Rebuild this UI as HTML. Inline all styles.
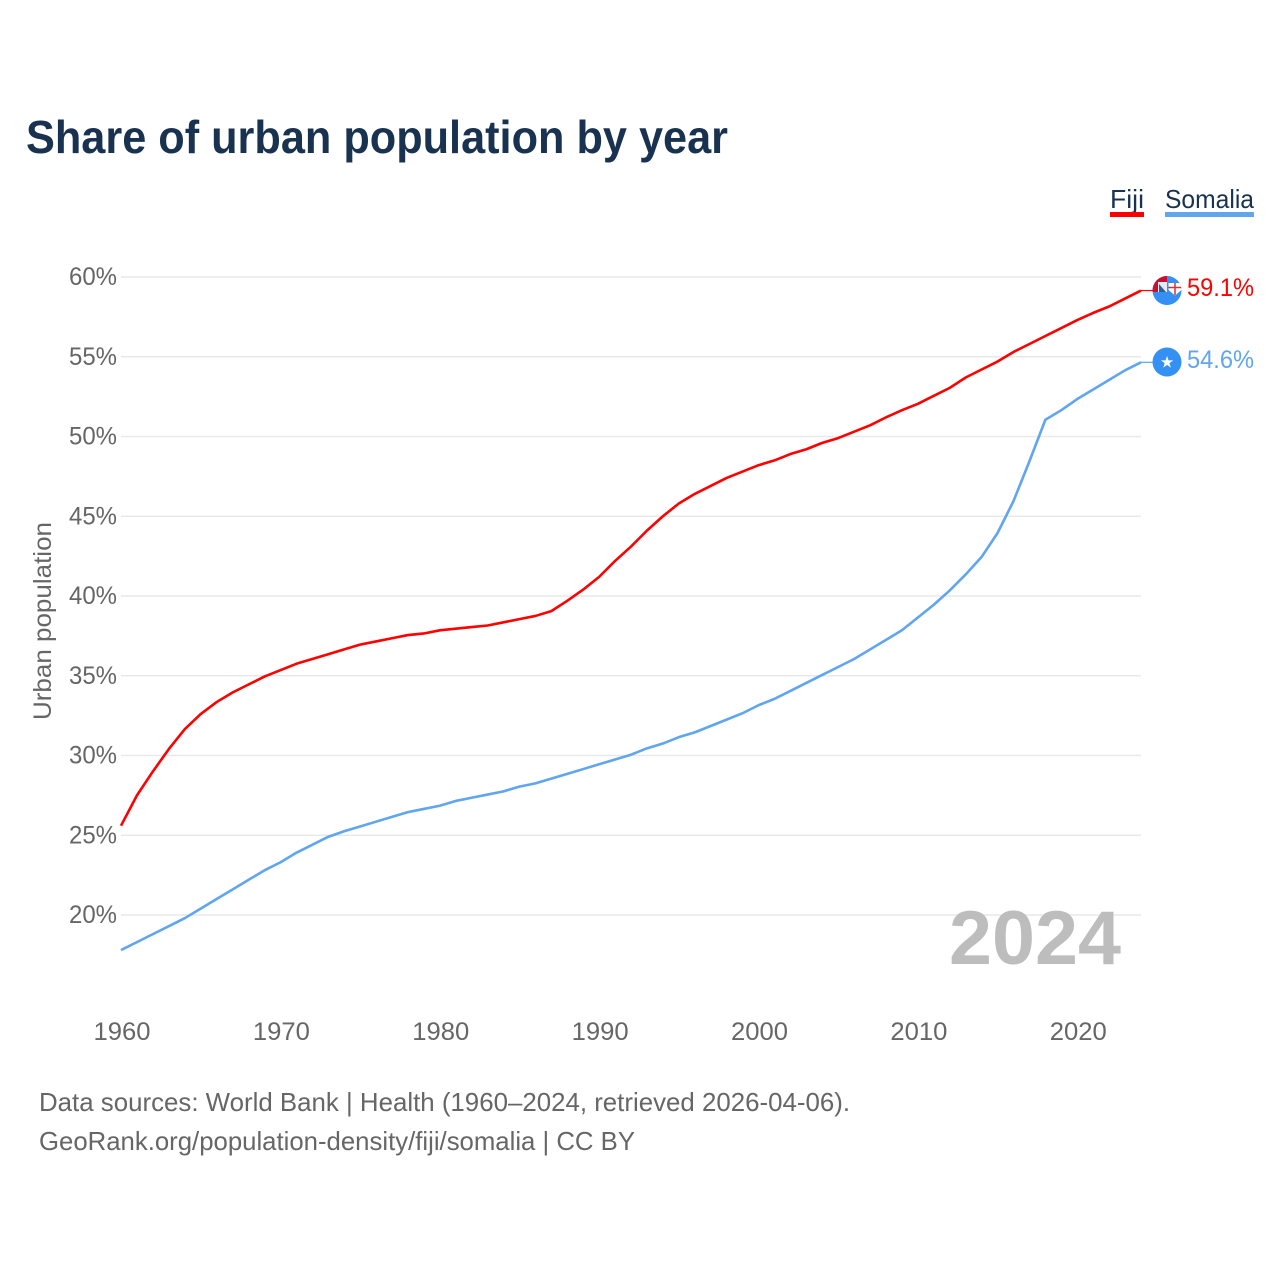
<!DOCTYPE html>
<html>
<head>
<meta charset="utf-8">
<title>Share of urban population by year</title>
<style>
html,body{margin:0;padding:0;background:#fff;}
svg{display:block;font-family:"Liberation Sans",sans-serif;}
</style>
</head>
<body>
<svg id="chart" width="1280" height="1280" viewBox="0 0 1280 1280" xmlns="http://www.w3.org/2000/svg">
  <defs>
    <clipPath id="fiji-clip"><circle cx="1167" cy="290.5" r="14.5"/></clipPath>
  </defs>
  <rect width="1280" height="1280" fill="#fff"/>
  <text x="26" y="153" font-size="46" font-weight="700" fill="#18324f" textLength="702" lengthAdjust="spacingAndGlyphs">Share of urban population by year</text>

  <g>
    <text x="1110" y="208" font-size="26" fill="#18324f" textLength="34" lengthAdjust="spacingAndGlyphs">Fiji</text>
    <rect x="1110" y="212" width="34" height="5" fill="#ff0000"/>
  </g>
  <g>
    <text x="1165" y="208" font-size="26" fill="#18324f" textLength="89" lengthAdjust="spacingAndGlyphs">Somalia</text>
    <rect x="1165" y="212" width="89" height="5" fill="#60a5ee"/>
  </g>

  <text transform="translate(51,720) rotate(-90)" x="0" y="0" font-size="25" fill="#666" textLength="198" lengthAdjust="spacingAndGlyphs">Urban population</text>

  <g id="grid"></g>
  <g id="yticks"></g>
  <g id="xticks"></g>

  <text x="949" y="964" font-size="76" font-weight="700" fill="#bdbdbd" textLength="172" lengthAdjust="spacingAndGlyphs">2024</text>

  <g id="series"></g>

  <g id="fiji-marker">
    <circle cx="1167" cy="290.5" r="14.5" fill="#3490f3"/>
    <g clip-path="url(#fiji-clip)">
      <rect x="1152" y="276" width="15" height="16" fill="#c8102e"/>
      <rect x="1158" y="282" width="9" height="10" fill="#e4ebf5"/>
      <path d="M1159 284 l7 8 h-7 Z" fill="#2f5f9e"/>
      <path d="M1168.5 283 h13 v7 l-6.5 5.5 l-6.5 -5.5 Z" fill="#fff"/>
      <path d="M1175 283 v12 M1168.5 287.5 h13" stroke="#d8303a" stroke-width="1.5" fill="none"/>
    </g>
  </g>
  <g id="somalia-marker">
    <circle cx="1167" cy="362" r="14.5" fill="#3490f3"/>
    <text x="1167" y="367.5" font-size="16" text-anchor="middle" fill="#fff" font-family="DejaVu Sans, sans-serif">★</text>
  </g>

  <text x="1187" y="296" font-size="25" fill="#ff0000" textLength="67" lengthAdjust="spacingAndGlyphs">59.1%</text>
  <text x="1187" y="368" font-size="25" fill="#60a5ee" textLength="67" lengthAdjust="spacingAndGlyphs">54.6%</text>

  <text x="39" y="1111" font-size="26" fill="#666" textLength="811" lengthAdjust="spacingAndGlyphs">Data sources: World Bank | Health (1960–2024, retrieved 2026-04-06).</text>
  <text x="39" y="1150" font-size="26" fill="#666" textLength="596" lengthAdjust="spacingAndGlyphs">GeoRank.org/population-density/fiji/somalia | CC BY</text>
</svg>
<script>
const years = [];
for (let yr = 1960; yr <= 2024; yr++) years.push(yr);
const yTickValues = [20, 25, 30, 35, 40, 45, 50, 55, 60];
const xTickValues = [1960, 1970, 1980, 1990, 2000, 2010, 2020];
const fijiValues = [
  25.6,27.5,29.0,30.4,31.65,32.6,33.35,33.95,34.45,34.95,
  35.35,35.75,36.05,36.35,36.65,36.95,37.15,37.35,37.55,37.65,
  37.85,37.95,38.05,38.15,38.35,38.55,38.75,39.05,39.7,40.4,
  41.2,42.2,43.1,44.1,45.0,45.8,46.4,46.9,47.4,47.8,
  48.2,48.5,48.9,49.2,49.6,49.9,50.3,50.7,51.2,51.65,
  52.05,52.55,53.05,53.7,54.2,54.7,55.3,55.8,56.3,56.8,
  57.3,57.75,58.15,58.65,59.15
];
const somaliaValues = [
  17.8,18.3,18.8,19.3,19.8,20.4,21.0,21.6,22.2,22.8,
  23.3,23.9,24.4,24.9,25.25,25.55,25.85,26.15,26.45,26.65,
  26.85,27.15,27.35,27.55,27.75,28.05,28.25,28.55,28.85,29.15,
  29.45,29.75,30.05,30.45,30.75,31.15,31.45,31.85,32.25,32.65,
  33.15,33.55,34.05,34.55,35.05,35.55,36.05,36.65,37.25,37.85,
  38.65,39.45,40.35,41.35,42.45,43.95,45.95,48.45,51.05,51.65,
  52.35,52.95,53.55,54.15,54.65
];

const NS = 'http://www.w3.org/2000/svg';
const xLeft = 121, xRight = 1141, yBase = 915, yTop = 277;
function xScale(yr) { return xLeft + (yr - 1960) * (xRight - xLeft) / 64; }
function yScale(v) { return yBase - (v - 20) * (yBase - yTop) / 40; }
function make(tag, attrs, parent) {
  const el = document.createElementNS(NS, tag);
  for (const k in attrs) el.setAttribute(k, attrs[k]);
  parent.appendChild(el);
  return el;
}

const grid = document.getElementById('grid');
const yticks = document.getElementById('yticks');
const xticks = document.getElementById('xticks');
const series = document.getElementById('series');

yTickValues.forEach(function (v) {
  const line = make('line', {x1: xLeft, x2: xRight, y1: yScale(v), y2: yScale(v), stroke: '#e9e9e9', 'stroke-width': 1.5}, grid);
  
  
  const t = make('text', {x: 117, y: yScale(v) + 8, 'font-size': 25, fill: '#666', 'text-anchor': 'end', textLength: 48, lengthAdjust: 'spacingAndGlyphs'}, yticks);
  
  
  t.textContent = v + '%';
});

xTickValues.forEach(function (yr) {
  const t = make('text', {x: xScale(yr) + 1, y: 1040, 'font-size': 25, fill: '#666', 'text-anchor': 'middle', textLength: 57, lengthAdjust: 'spacingAndGlyphs'}, xticks);
  
  
  t.textContent = yr;
});

function drawSeries(values, color, name, connectorEnd) {
  const pts = values.map(function (v, i) { return xScale(years[i]).toFixed(2) + ',' + yScale(v).toFixed(2); });
  const path = make('polyline', {points: pts.join(' '), fill: 'none', stroke: color, 'stroke-width': 2.6, 'stroke-linejoin': 'round'}, series);
  
  
  const lastY = yScale(values[values.length - 1]);
  const conn = make('line', {x1: xRight, x2: connectorEnd, y1: lastY, y2: lastY, stroke: color, 'stroke-width': 1.2}, series);
  
  
}
drawSeries(fijiValues, '#ff0000', 'fiji-line', 1153);
drawSeries(somaliaValues, '#60a5ee', 'somalia-line', 1153);
</script>
</body>
</html>
